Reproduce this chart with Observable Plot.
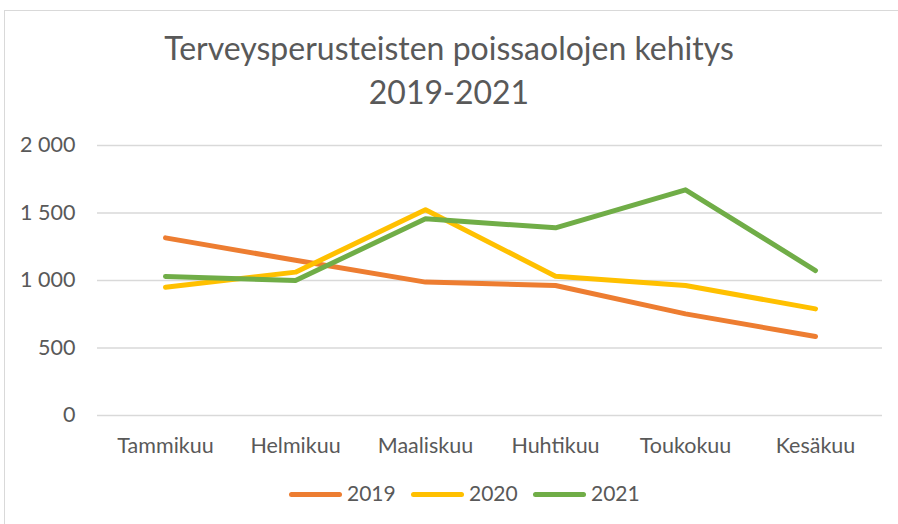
<!DOCTYPE html>
<html>
<head>
<meta charset="utf-8">
<script src="https://cdn.jsdelivr.net/npm/d3@7"></script>
<script src="https://cdn.jsdelivr.net/npm/@observablehq/plot@0.6"></script>
<style>
  html, body { margin: 0; padding: 0; background: #fff; }
  #wrap { position: relative; width: 898px; height: 524px; overflow: hidden; font-family: Lato, "Open Sans", sans-serif; color: #595959; }
  #frame { position: absolute; left: 4px; top: 10px; width: 900px; height: 530px; border: 1.5px solid #d9d9d9; box-sizing: border-box; pointer-events: none; }
  #title { position: relative; text-align: center; font-size: 32px; line-height: 44px; padding-top: 26px; height: 94px; }
  #chart { position: relative; height: 340px; }
  #legend { position: relative; margin-top: 23px; height: 20px; line-height: 20px; font-size: 21px; padding-left: 289px; white-space: nowrap; }
  .item { display: inline-block; width: 122px; }
  .sw { display: inline-block; width: 53px; height: 5px; border-radius: 3px; vertical-align: middle; margin-right: 5px; position: relative; top: -1px; }
</style>
</head>
<body>
<div id="wrap">
  <div id="frame"></div>
  <div id="title">Terveysperusteisten poissaolojen kehitys<br>2019-2021</div>
  <div id="chart"></div>
  <div id="legend"></div>
</div>
<script>
const months = ["Tammikuu", "Helmikuu", "Maaliskuu", "Huhtikuu", "Toukokuu", "Kesäkuu"];
const series = ["2019", "2020", "2021"];
const v2019 = [1316, 1150, 988, 963, 753, 585];
const v2020 = [950, 1062, 1524, 1032, 963, 790];
const v2021 = [1030, 1000, 1457, 1390, 1672, 1074];
const yTicks = [0, 500, 1000, 1500, 2000];
const colors = ["#ED7D31", "#FFC000", "#70AD47"];

const values = [v2019, v2020, v2021];
const data = series.flatMap((s, i) => months.map((m, j) => ({series: s, month: m, value: values[i][j]})));

const fmt = d => d3.format(",")(d).replace(/,/g, " ");

const plot = Plot.plot({
  width: 898,
  height: 340,
  marginTop: 25,
  marginBottom: 45,
  marginLeft: 97,
  marginRight: 16,
  style: {fontFamily: "Lato, 'Open Sans', sans-serif", fontSize: "21.5px", color: "#595959", background: "transparent"},
  x: {type: "point", domain: months, padding: 0.5, label: null},
  y: {domain: [0, 2000], label: null},
  color: {domain: series, range: colors},
  marks: [
    Plot.ruleY(yTicks, {stroke: "#d9d9d9", strokeWidth: 1.5}),
    Plot.axisY({ticks: yTicks, tickFormat: fmt, tickSize: 0, tickPadding: 22, label: null, fill: "#595959"}),
    Plot.axisX({tickSize: 0, tickPadding: 22, label: null, fill: "#595959"}),
    Plot.line(data, {x: "month", y: "value", z: "series", stroke: "series", strokeWidth: 5, strokeLinecap: "round", strokeLinejoin: "round"})
  ]
});
document.getElementById("chart").appendChild(plot);

const legend = document.getElementById("legend");
series.forEach((s, i) => {
  const item = document.createElement("span");
  item.className = "item";
  const sw = document.createElement("span");
  sw.className = "sw";
  sw.style.background = colors[i];
  item.appendChild(sw);
  item.appendChild(document.createTextNode(s));
  legend.appendChild(item);
});
</script>
</body>
</html>
